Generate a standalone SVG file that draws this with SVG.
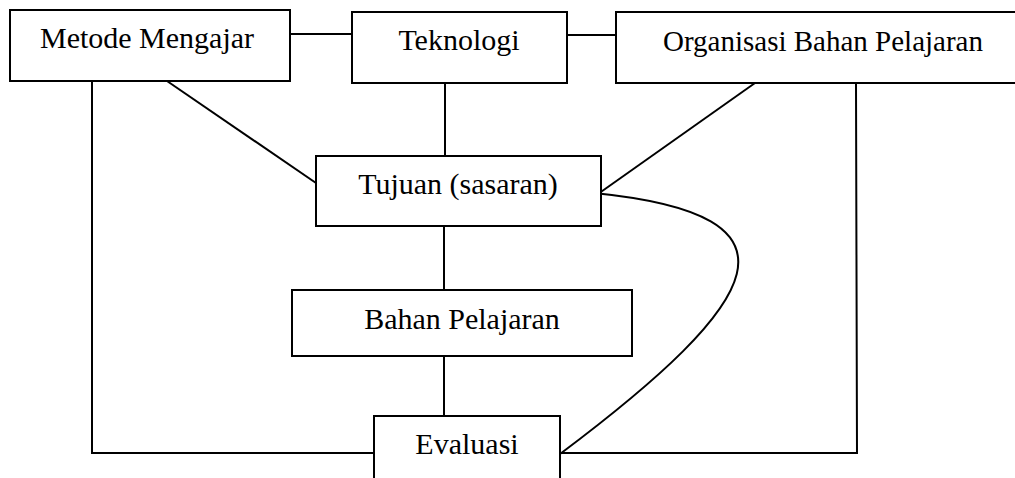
<svg xmlns="http://www.w3.org/2000/svg" width="1015" height="478" viewBox="0 0 1015 478">
<style>
.box{fill:#fff;stroke:#000;stroke-width:2}
.ln{fill:none;stroke:#000;stroke-width:2}
.t{font-family:"Liberation Serif","Times New Roman",serif;font-size:30px;fill:#000}
.c{text-anchor:middle}
.s{font-size:29px}
</style>
<rect width="1015" height="478" fill="#fff"/>
<g id="connectors">
<line class="ln" x1="290" y1="34" x2="352" y2="34"/>
<line class="ln" x1="567" y1="35" x2="616" y2="35"/>
<line class="ln" x1="445" y1="83" x2="445" y2="156"/>
<line class="ln" x1="167" y1="81" x2="316" y2="183"/>
<line class="ln" x1="755" y1="83" x2="598" y2="194"/>
<polyline class="ln" points="92,81 92,453 374,453"/>
<polyline class="ln" points="856,83 857,453 560,453"/>
<line class="ln" x1="444" y1="226" x2="444" y2="290"/>
<line class="ln" x1="444" y1="356" x2="444" y2="416"/>
<path class="ln" d="M594,193 C815,215 765,300 560,454"/>
</g>
<g id="metode"><rect class="box" x="10" y="10" width="280" height="71"/><text class="t c" x="147" y="48">Metode Mengajar</text></g>
<g id="teknologi"><rect class="box" x="352" y="12" width="215" height="71"/><text class="t c" x="459" y="50">Teknologi</text></g>
<g id="organisasi"><rect class="box" x="616" y="12" width="410" height="71"/><text class="t s" x="663" y="51">Organisasi Bahan Pelajaran</text></g>
<g id="tujuan"><rect class="box" x="316" y="156" width="285" height="70"/><text class="t c" x="458" y="194">Tujuan (sasaran)</text></g>
<g id="bahan"><rect class="box" x="292" y="290" width="340" height="66"/><text class="t c" x="462" y="329">Bahan Pelajaran</text></g>
<g id="evaluasi"><rect class="box" x="374" y="416" width="186" height="80"/><text class="t c" x="467" y="454">Evaluasi</text></g>
</svg>
